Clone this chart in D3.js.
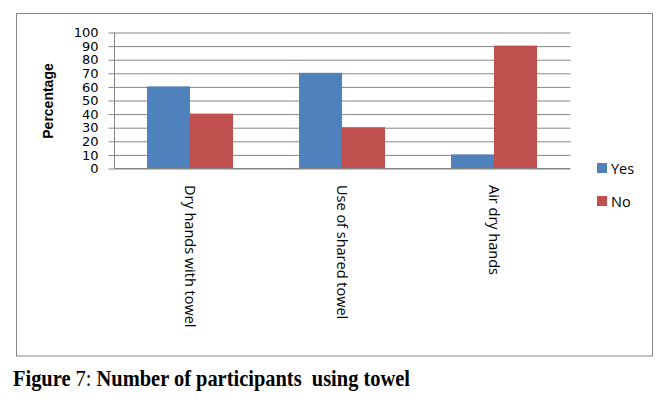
<!DOCTYPE html>
<html><head><meta charset="utf-8">
<script src="https://cdn.jsdelivr.net/npm/d3@7"></script>
<style>body{margin:0;background:#fff}svg{display:block}</style>
</head><body>
<svg id="c" width="663" height="408"></svg>
<script>
const categories = ["Dry hands with towel", "Use of shared towel", "Air dry hands"];
const seriesNames = ["Yes", "No"];
const yesValues = [60, 70, 10];
const noValues = [40, 30, 90];
const yTicks = [0,10,20,30,40,50,60,70,80,90,100];
const colors = ["#4F81BD", "#C0504D"];

const svg = d3.select("#c");
const m = {l:114, t:32, r:570, b:168};
const x0 = d3.scaleBand().domain(categories).range([m.l, m.r]).paddingInner(0).paddingOuter(0);
const x1 = d3.scaleBand().domain(seriesNames).range([0, x0.bandwidth()]).paddingInner(0).paddingOuter(33/43);
const y = d3.scaleLinear().domain([0,100]).range([m.b, m.t]);

// outer frame
svg.append("rect").attr("x",16.5).attr("y",13.5).attr("width",636).attr("height",342.5)
  .attr("fill","none").attr("stroke","#868686").attr("stroke-width",1);

// gridlines + axis
const yAxis = d3.axisLeft(y).tickValues(yTicks).tickSize(6).tickPadding(10);
const gy = svg.append("g").attr("transform",`translate(${m.l+0.5},0.5)`).call(yAxis);
gy.select(".domain").attr("stroke","#868686").attr("d",`M0,${m.t}V${m.b}`);
gy.selectAll(".tick line").attr("stroke","#868686").attr("x1",0).attr("x2",-6);
gy.selectAll(".tick").append("line").attr("x1",0).attr("x2",m.r-m.l).attr("stroke","#868686");
gy.selectAll(".tick text").attr("font-family","DejaVu Sans").attr("font-size",13).attr("fill","#000").attr("x",-16);

// bars
const data = categories.map((c,i)=>({c, vals:[yesValues[i], noValues[i]]}));
const g = svg.append("g").selectAll("g").data(data).join("g").attr("transform",d=>`translate(${x0(d.c)},0)`);
g.selectAll("rect").data(d=>d.vals.map((v,j)=>({v,s:seriesNames[j],j}))).join("rect")
  .attr("x",d=>x1(d.s)).attr("width",x1.bandwidth())
  .attr("y",d=>y(d.v)).attr("height",d=>y(0)-y(d.v)).attr("fill",d=>colors[d.j]);

// bottom axis line
svg.append("line").attr("x1",m.l).attr("x2",m.r).attr("y1",m.b+0.5).attr("y2",m.b+0.5).attr("stroke","#868686");

// category labels rotated
svg.append("g").selectAll("text").data(categories).join("text")
  .attr("transform",d=>`translate(${x0(d)+x0.bandwidth()/2},185) rotate(90)`)
  .attr("dy","0.35em").attr("font-family","Open Sans").attr("font-size",14.5).attr("fill","#000")
  .text(d=>d);

// y title
svg.append("text").attr("transform","translate(53,101) rotate(-90)").attr("text-anchor","middle")
  .attr("font-family","Liberation Sans").attr("font-weight","bold").attr("font-size",14).text("Percentage");

// legend
const lg = svg.append("g").selectAll("g").data(seriesNames).join("g")
  .attr("transform",(d,i)=>`translate(597,${163+i*33})`);
lg.append("rect").attr("width",10).attr("height",10).attr("fill",(d,i)=>colors[i]);
lg.append("text").attr("x",14).attr("y",10.5).attr("font-family","Open Sans").attr("font-size",14.5).text(d=>d);

// caption (condensed serif, split into pieces)
const capParts = [{t:"Figure ", w:"bold"}, {t:"7: ", w:"normal"}, {t:"Number of participants  using towel", w:"bold"}];
const capG = svg.append("g");
let cx = 0;
capParts.forEach(p => {
  const t = capG.append("text").attr("x",cx).attr("y",0).attr("font-family","Liberation Serif")
    .attr("font-size",23).attr("font-weight",p.w).style("white-space","pre").text(p.t);
  cx += t.node().getComputedTextLength();
});
const sx = 397 / cx;
capG.attr("transform",`translate(13,386) scale(${sx},1)`);
</script>
</body></html>
